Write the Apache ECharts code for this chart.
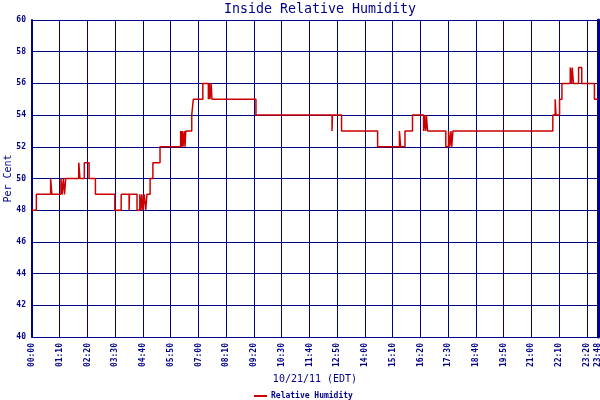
<!DOCTYPE html>
<html>
<head>
<meta charset="utf-8">
<script src="https://cdn.jsdelivr.net/npm/echarts@6/dist/echarts.min.js"></script>
<style>html,body{margin:0;padding:0;background:#fff}#c{width:600px;height:400px}</style>
</head>
<body>
<div id="c"></div>
<script>
// Minutes after midnight at which the reading changes, and the reading from then on
const changeMinutes = [0,11,47,50,73,76,79,82,85,118,121,132,144,160,209,225,245,246,265,272,275,277,280,283,287,290,298,305,323,375,377,379,381,384,386,388,403,407,431,445,447,449,452,454,565,757,758,781,872,927,930,941,960,988,990,993,995,998,1044,1051,1054,1057,1059,1062,1314,1320,1322,1331,1337,1358,1361,1363,1366,1379,1387,1419,1428];
const humidity = [48,49,50,49,50,49,50,49,50,51,50,51,50,49,48,49,48,49,48,49,48,49,48,49,48,49,50,51,52,53,52,53,52,53,52,53,54,55,56,55,56,55,56,55,54,53,54,53,52,53,52,53,54,53,54,53,54,53,52,53,52,53,52,53,54,55,54,55,56,57,56,57,56,57,56,55,55];
const yTicks = [40,42,44,46,48,50,52,54,56,58,60];
const xEndMinute = 1428;
const xStepMinutes = 70;

const navy = '#000088';
const seriesData = changeMinutes.map((m, i) => [m, humidity[i]]);
function fmt(m) {
  const h = Math.floor(m / 60), mm = Math.round(m % 60);
  return String(h).padStart(2, '0') + ':' + String(mm).padStart(2, '0');
}
const chart = echarts.init(document.getElementById('c'), null, {renderer: 'canvas'});
chart.setOption({
  animation: false,
  backgroundColor: '#fff',
  title: {
    text: 'Inside Relative Humidity',
    left: 315, top: -2, textAlign: 'center',
    textStyle: {fontFamily: 'DejaVu Sans Mono', fontSize: 13.3, fontWeight: 'normal', color: navy}
  },
  legend: {
    data: ['Relative Humidity'],
    left: 249, top: 387,
    icon: 'rect', itemWidth: 13, itemHeight: 2, itemGap: 4,
    textStyle: {fontFamily: 'DejaVu Sans Mono', fontSize: 8, fontWeight: 'bold', color: navy, padding: [0,0,0,-1]}
  },
  grid: {left: 32, right: 2, top: 20, bottom: 63, containLabel: false, outerBoundsMode: 'none'},
  xAxis: {
    type: 'value', min: 0, max: xEndMinute, interval: xStepMinutes,
    name: '10/21/11 (EDT)', nameLocation: 'middle', nameGap: 37, nameMoveOverlap: false,
    nameTextStyle: {fontFamily: 'DejaVu Sans Mono', fontSize: 10, color: navy},
    axisLine: {show: true, lineStyle: {color: navy, width: 1}},
    axisTick: {show: false},
    splitLine: {show: true, lineStyle: {color: navy, width: 1}},
    axisLabel: {
      rotate: 90, margin: 6, showMinLabel: true, showMaxLabel: true,
      fontFamily: 'DejaVu Sans Mono', fontSize: 8, fontWeight: 'bold', color: navy,
      formatter: v => fmt(v)
    }
  },
  yAxis: [{
    type: 'value', min: yTicks[0], max: yTicks[yTicks.length - 1], interval: yTicks[1] - yTicks[0],
    name: 'Per Cent', nameLocation: 'middle', nameGap: 19, nameRotate: 90, nameMoveOverlap: false,
    nameTextStyle: {fontFamily: 'DejaVu Sans Mono', fontSize: 10, color: navy},
    axisLine: {show: true, lineStyle: {color: navy, width: 2}},
    axisTick: {show: false},
    splitLine: {show: true, lineStyle: {color: navy, width: 1}},
    axisLabel: {margin: 6, fontFamily: 'DejaVu Sans Mono', fontSize: 8, fontWeight: 'bold', color: navy}
  }, {
    type: 'value', position: 'right', min: yTicks[0], max: yTicks[yTicks.length - 1],
    axisLine: {show: true, lineStyle: {color: navy, width: 3}},
    axisTick: {show: false}, axisLabel: {show: false}, splitLine: {show: false}
  }],
  series: [{
    name: 'Relative Humidity', type: 'line', step: 'end',
    data: seriesData, showSymbol: false, symbol: 'none',
    lineStyle: {color: '#CC0000', width: 1.5},
    itemStyle: {color: '#CC0000'}
  }]
});
</script>
</body>
</html>
